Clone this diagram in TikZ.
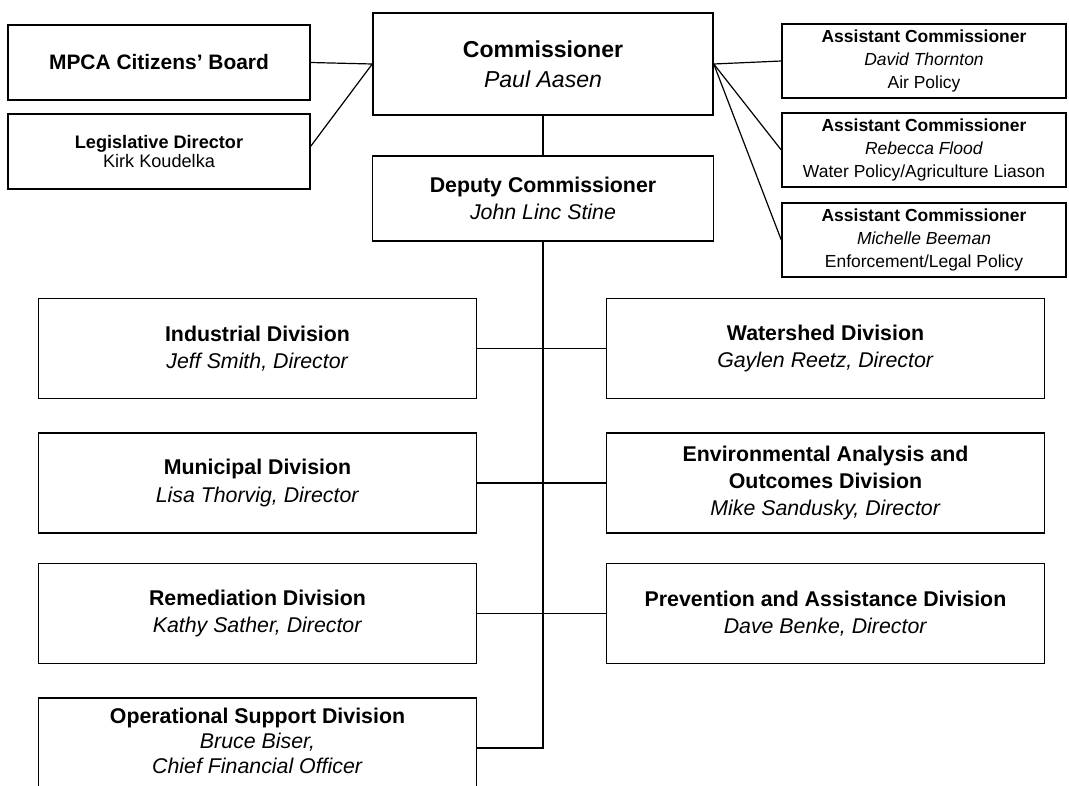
\documentclass[tikz,border=0pt]{standalone}
\usepackage{fontspec}
\setmainfont{Liberation Sans}
\usetikzlibrary{positioning}

\begin{document}
\begin{tikzpicture}[x=0.75pt,y=-0.75pt,
  orgbox/.style={draw,line width=1.1pt,align=center,inner sep=2pt},
  topbox/.style={orgbox,minimum width=226.5pt,minimum height=56.25pt},
  acbox/.style={orgbox,minimum width=213pt,minimum height=55.5pt,font=\fontsize{13.1}{17}\selectfont},
  divbox/.style={orgbox,minimum width=328.5pt,minimum height=75pt,font=\fontsize{16}{20.5}\selectfont},
  link/.style={line width=0.9pt}]
\useasboundingbox (0,0) rectangle (1069,785);
\clip (0,0) rectangle (1069,785);

\node[topbox,font=\fontsize{15.7}{19}\selectfont\bfseries] (board) at (159,62.5) {MPCA Citizens' Board};
\node[topbox,font=\fontsize{13.6}{14.5}\selectfont] (legis) at (159,151.5) {\textbf{Legislative Director}\\Kirk Koudelka};
\node[orgbox,minimum width=255pt,minimum height=76.5pt,font=\fontsize{17.3}{22.5}\selectfont] (comm) at (543,64) {\textbf{Commissioner}\\\textit{Paul Aasen}};
\node[orgbox,minimum width=255.75pt,minimum height=63.75pt,font=\fontsize{16}{20}\selectfont] (dep) at (543,198.5) {\textbf{Deputy Commissioner}\\\textit{John Linc Stine}};

\node[acbox] (air) at (924,61) {\textbf{Assistant Commissioner}\\\textit{David Thornton}\\Air Policy};
\node[acbox] (water) at (924,150) {\textbf{Assistant Commissioner}\\\textit{Rebecca Flood}\\Water Policy/Agriculture Liason};
\node[acbox] (legal) at (924,240) {\textbf{Assistant Commissioner}\\\textit{Michelle Beeman}\\Enforcement/Legal Policy};

% divisions, left and right of the trunk
\node[divbox] (ind) at (257.5,348.5) {\textbf{Industrial Division}\\\textit{Jeff Smith, Director}};
\node[divbox] (muni) at (257.5,483) {\textbf{Municipal Division}\\\textit{Lisa Thorvig, Director}};
\node[divbox] (remed) at (257.5,613.5) {\textbf{Remediation Division}\\\textit{Kathy Sather, Director}};
\node[divbox,font=\fontsize{16}{19}\selectfont,text depth=11pt] (ops) at (257.5,748) {\textbf{Operational Support Division}\\\textit{Bruce Biser,}\\\textit{Chief Financial Officer}};
\node[divbox] (shed) at (825.5,348.5) {\textbf{Watershed Division}\\\textit{Gaylen Reetz, Director}};
\node[divbox] (envir) at (825.5,483) {\textbf{Environmental Analysis and}\\\textbf{Outcomes Division}\\\textit{Mike Sandusky, Director}};
\node[divbox] (prev) at (825.5,613.5) {\textbf{Prevention and Assistance Division}\\\textit{Dave Benke, Director}};

\draw[link] (board.east) -- (comm.west);
\draw[link] (legis.2) -- (comm.west);
\draw[link] (comm.east) -- (air.west);
\draw[link] (comm.east) -- (water.west);
\draw[link] (comm.east) -- (legal.west);
\draw[link] (comm.south) -- (dep.north);
\draw[link] (dep.south) -- (dep.south |- ops.east) -- (ops.east);
\draw[link] (ind) -- (shed);
\draw[link] (muni) -- (envir);
\draw[link] (remed) -- (prev);
\end{tikzpicture}
\end{document}
